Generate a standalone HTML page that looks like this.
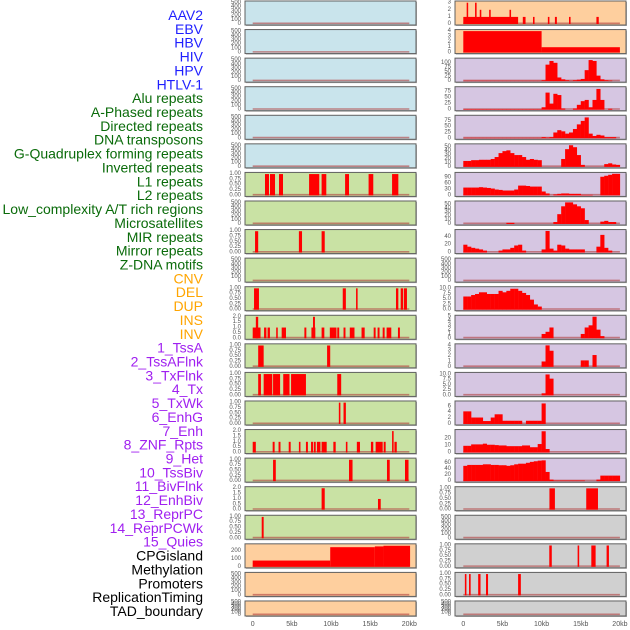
<!DOCTYPE html>
<html><head><meta charset="utf-8"><style>
html,body{margin:0;padding:0;background:#fff;}
svg{display:block;font-family:"Liberation Sans",sans-serif;}
</style></head><body>
<svg id="chart" width="630" height="630" viewBox="0 0 630 630"></svg>
<script>
// ---- labels ----
const labelNames = ["AAV2","EBV","HBV","HIV","HPV","HTLV-1","Alu repeats","A-Phased repeats","Directed repeats","DNA transposons","G-Quadruplex forming repeats","Inverted repeats","L1 repeats","L2 repeats","Low_complexity A/T rich regions","Microsatellites","MIR repeats","Mirror repeats","Z-DNA motifs","CNV","DEL","DUP","INS","INV","1_TssA","2_TssAFlnk","3_TxFlnk","4_Tx","5_TxWk","6_EnhG","7_Enh","8_ZNF_Rpts","9_Het","10_TssBiv","11_BivFlnk","12_EnhBiv","13_ReprPC","14_ReprPCWk","15_Quies","CPGisland","Methylation","Promoters","ReplicationTiming","TAD_boundary"];
const labelGroups = [0,0,0,0,0,0,1,1,1,1,1,1,1,1,1,1,1,1,1,2,2,2,2,2,3,3,3,3,3,3,3,3,3,3,3,3,3,3,3,4,4,4,4,4];
const xTickLabels = ["0","5kb","10kb","15kb","20kb"];
const xTickValues = [0,5,10,15,20];

// ---- tick label arrays ----
const T500 = ["0","100","200","300","400","500"];
const T01 = ["0.00","0.25","0.50","0.75","1.00"];
const T02 = ["0.0","0.5","1.0","1.5","2.0"];
const T10 = ["0.0","2.5","5.0","7.5","10.0"];
const T_meth = ["0","100","200"];
const T_r0 = ["0","1","2","3"];
const T_r1 = ["0","1","2","3","4"];
const T_r2 = ["0","25","50","75","100"];
const T_r3 = ["0","25","50","75"];
const T_r5 = ["0","10","20","30","40","50"];
const T_r6 = ["0","30","60","90"];
const T_r8 = ["0","20","40"];
const T_r11 = ["0","1","2","3","4","5"];
const T_r14 = ["0","2","4","6"];
const T_r15 = ["0","10","20"];
const T_r16 = ["0","20","40","60"];

// ---- span data [startKb, endKb, value] ----
const L6 = [[1.57,2.08,1],[2.21,2.85,1],[3.36,3.87,1],[7.2,8.5,1],[8.8,9.4,1],[11.8,12.3,1],[14.8,15.4,1],[17.8,18.6,1]];
const L8 = [[0.3,0.7,1],[5.9,6.3,1],[8.8,9.2,1]];
const L10 = [[0.17,0.8,1],[11.5,11.9,1],[13.2,13.4,1],[18.3,18.6,1],[18.9,19.2,1],[19.3,19.7,1]];
const L11 = [[0,1.0,1],[0.4,0.7,2],[1.45,1.75,1],[1.9,2.2,1],[3.0,3.2,1],[3.7,4.25,1],[6.6,6.85,1],[7.5,8.0,1],[7.7,7.95,2],[8.8,9.15,1],[9.85,10.7,1],[10.8,11.05,1],[11.6,11.85,1],[12.4,13.0,1],[13.9,14.3,1],[15.45,15.7,1],[15.95,16.2,1],[16.6,16.85,1],[17.1,17.7,1],[18.55,18.8,1]];
const L12 = [[0.7,1.4,1],[9.5,9.9,1]];
const L13 = [[0.7,1.05,1],[1.4,2.5,1],[2.6,3.5,1],[3.9,4.7,1],[4.9,6.8,1],[10.8,11.3,1]];
const L14 = [[11.0,11.2,1],[11.6,11.9,1]];
const L15 = [[0,0.4,1],[2.55,2.8,1],[3.3,3.55,1],[4.6,4.85,1],[5.9,6.1,1],[6.8,7.05,1],[7.45,7.7,1],[7.8,8.05,1],[8.2,8.65,1],[8.8,9.45,1],[10.3,10.6,1],[11.9,12.1,1],[13.3,13.7,1],[15.1,15.4,1],[15.7,16.6,1],[16.73,16.98,1],[17.8,18.0,2],[18.1,18.4,1]];
const L16 = [[2.6,2.95,1],[12.3,12.75,1],[17.15,17.5,1],[19.45,19.9,1]];
const L17 = [[8.8,9.2,2],[16.0,16.35,1]];
const L18 = [[1.15,1.4,1]];
const L19 = [[0,9.9,80],[9.9,15.6,250],[15.6,16.7,260],[16.7,20.1,268]];
const R0 = [[0,7.0,1],[0.43,0.6,3],[1.5,1.7,3],[2.1,2.3,2],[3.3,3.5,2],[5.9,6.1,2],[7.6,7.95,1],[8.9,9.1,1],[10.8,11.0,1],[11.7,11.95,1],[13.5,13.7,1],[17.0,17.3,1]];
const R1 = [[0,10.0,4],[10.0,20.0,1]];
const R17 = [[11.0,11.7,1],[15.7,17.2,1]];
const R19 = [[10.98,11.3,1],[14.6,14.8,1],[16.35,16.9,1],[18.3,18.6,1]];
const R20 = [[0.2,0.4,1],[0.73,0.94,1],[1.9,2.2,1],[2.9,3.16,1],[7.0,7.35,1]];

// ---- binned data (0.5kb bins from 0kb) ----
const R2 = [2,2,2,2,2,2,2,2,2,2,2,2,2,2,2,2,2,2,2,2,5,90,110,100,20,10,5,2,5,8,12,60,115,110,30,10,5,3,0,0];
const R3 = [2,2,2,2,2,2,2,2,2,2,2,2,2,2,2,2,2,2,2,2,10,70,25,65,60,5,0,0,5,20,35,40,10,40,85,40,0,4,0,0];
const R4 = [2,2,2,2,2,2,2,2,2,2,2,2,2,2,2,2,2,2,2,2,5,3,5,25,35,30,20,25,40,60,75,90,20,10,15,12,5,5,5,0];
const R5 = [15,15,17,17,18,18,18,20,25,35,40,42,35,30,30,25,18,20,18,17,0,0,0,0,0,20,45,55,50,30,5,0,0,0,0,0,7,9,6,5];
const R6 = [40,40,40,40,42,40,38,35,30,28,25,25,25,30,50,50,48,45,45,45,20,10,0,5,8,10,10,8,8,8,3,3,3,0,0,95,100,105,110,110];
const R7 = [0,0,0,0,0,0,0,0,0,0,0,3,3,0,0,0,0,0,0,0,0,0,0,5,25,45,55,55,50,45,40,10,0,0,0,6,8,5,5,0];
const R8 = [20,15,12,10,8,5,0,0,0,5,8,8,12,18,20,5,0,0,0,0,8,55,10,5,20,18,10,8,8,8,8,0,0,0,15,45,12,5,0,0];
const R10 = [6.3,6.3,7,7.5,8.3,8.3,7.5,7.5,7.5,9,8.3,9,10,10,9,8,7,4.8,2.5,1.5,0,0,0,0,0,0,0,0,0,0,0,0,0,0,0,0,0,0,0,0];
const R11 = [0,0,0,0,0,0,0,0,0,0,0,0,0,0,0,0,0,0,0,0,1,1.5,2.5,0,0,0,0,0,0,0,1,2.5,3,5,2,0.5,0,0,0,0];
const R12 = [0,0,0,0,0,0,0,0,0,0,0,0,0,0,0,0,0,0,0,0,1,4,3,0,0,0,0,0,0,0,1.2,1.2,0,2.2,0,0,0,0,0,0];
const R13 = [0,0,0,0,0,0,0,0,0,0,0,0,0,0,0,0,0,0,0,0,1,10,8,0,0,0,0,0,0,0,0,0,0,0,0,0,0,0,0,0];
const R14 = [4.3,4.3,2.2,2.2,2.2,1,1,2.2,3.3,3.3,1.1,1.1,1.1,1.1,1.1,0,1.1,1.1,1.1,1.1,7,0,0,0,0,0,0,0,0,0,0,0,0,0,0,0,0,0,0,0];
const R15 = [9.5,9.5,11.5,11.5,11.5,12.5,11,11,10.5,10,10,9,9,9,9,10,10,7.5,7.5,12,30,5,0,0,0,0,0,0,0,0,0,0,0,0,0,0,0,0,0,0];
const R16 = [50,53,53,53,53,55,55,53,53,52,52,50,52,55,57,57,60,63,65,67,68,30,5,2,2,2,2,2,2,2,2,0,0,0,5,18,18,18,18,18];

const BG = {blue:"#c9e4ec",green:"#c9e2a4",orange:"#fecf9e",purple:"#d6c6e2",gray:"#d0d0d0"};
// panel config: column, row, background, vmax, tick labels, spans, bins
const panels = [
 [0,0,"blue",525,T500,null,null],[0,1,"blue",525,T500,null,null],[0,2,"blue",525,T500,null,null],
 [0,3,"blue",525,T500,null,null],[0,4,"blue",525,T500,null,null],[0,5,"blue",525,T500,null,null],
 [0,6,"green",1.03,T01,L6,null],[0,7,"green",525,T500,null,null],[0,8,"green",1.03,T01,L8,null],
 [0,9,"green",525,T500,null,null],[0,10,"green",1.03,T01,L10,null],[0,11,"green",2.05,T02,L11,null],
 [0,12,"green",1.03,T01,L12,null],[0,13,"green",1.03,T01,L13,null],[0,14,"green",1.03,T01,L14,null],
 [0,15,"green",2.05,T02,L15,null],[0,16,"green",1.03,T01,L16,null],[0,17,"green",2.05,T02,L17,null],
 [0,18,"green",1.03,T01,L18,null],[0,19,"orange",280,T_meth,L19,null],[0,20,"orange",525,T500,null,null],
 [0,21,"orange",525,T500,null,null],
 [1,0,"orange",3.1,T_r0,R0,null],[1,1,"orange",4.1,T_r1,R1,null],[1,2,"purple",120,T_r2,null,R2],
 [1,3,"purple",90,T_r3,null,R3],[1,4,"purple",95,T_r3,null,R4],[1,5,"purple",56,T_r5,null,R5],
 [1,6,"purple",112,T_r6,null,R6],[1,7,"purple",56,T_r5,null,R7],[1,8,"purple",56,T_r8,null,R8],
 [1,9,"purple",525,T500,null,null],[1,10,"purple",10.5,T10,null,R10],[1,11,"purple",5.1,T_r11,null,R11],
 [1,12,"purple",4.1,T_r1,null,R12],[1,13,"purple",10.5,T10,null,R13],[1,14,"purple",7.5,T_r14,null,R14],
 [1,15,"purple",31,T_r15,null,R15],[1,16,"purple",72,T_r16,null,R16],[1,17,"gray",1.03,T01,R17,null],
 [1,18,"gray",525,T500,null,null],[1,19,"gray",1.03,T01,R19,null],[1,20,"gray",1.03,T01,R20,null],
 [1,21,"gray",525,T500,null,null]
];

const NS = "http://www.w3.org/2000/svg";
const svg = document.getElementById("chart");
function mk(tag, attrs, parent){const e=document.createElementNS(NS,tag);for(const k in attrs)e.setAttribute(k,attrs[k]);(parent||svg).appendChild(e);return e;}

// labels
const LCOL = ["#1f1fff","#0a6b0a","#ffa500","#a020f0","#000000"];
labelNames.forEach((n,i)=>{
  const t = mk("text",{x:203,y:15+i*13.86,"text-anchor":"end","dominant-baseline":"central","font-size":"14",fill:LCOL[labelGroups[i]]});
  
  
  t.textContent = n;
});

const COLX = [245,455], COLW = 171, X0 = [252.7,463.3], KB = 7.83;
function xs(c,kb){return X0[c]+kb*KB;}

panels.forEach(p=>{
  const [c,r,bg,vmax,ticks,spans,bins]=p;
  const top = 1 + r*28.57, h = (r===21)?15:24;
  const yb = top+h-1;
  const ys = v => yb - v/vmax*(h-2);
  const g = mk("g",{});
  
  
  mk("rect",{x:COLX[c]+1,y:top+1,width:COLW,height:h,fill:"#b0b0b0"},g);
  mk("rect",{x:COLX[c],y:top,width:COLW,height:h,fill:BG[bg],stroke:"#606060","stroke-width":1},g);
  mk("line",{x1:xs(c,0),x2:xs(c,20),y1:yb-0.7,y2:yb-0.7,stroke:"#b04040","stroke-opacity":0.6,"stroke-width":1.6},g);
  if(spans) spans.forEach(s=>{
    const x1=xs(c,s[0]), x2=xs(c,s[1]);
    const b=mk("rect",{x:x1,y:ys(s[2]),width:Math.max(1.5,x2-x1),height:yb-ys(s[2]),fill:"#ff0000"},g);
    
    
  });
  if(bins) bins.forEach((v,i)=>{
    if(v<=0) return;
    const x1=xs(c,i*0.5), x2=xs(c,(i+1)*0.5);
    const b=mk("rect",{x:x1,y:ys(v),width:x2-x1+0.2,height:yb-ys(v),fill:"#ff0000"},g);
    
    
  });
  ticks.forEach(l=>{
    const t=mk("text",{x:COLX[c]-4,y:ys(parseFloat(l)),"text-anchor":"end","dominant-baseline":"central","font-size":"6",fill:"#555"},g);
    
    
    t.textContent=l;
  });
});

// x axes
[0,1].forEach(c=>{
  xTickValues.forEach((v,i)=>{
    const t=mk("text",{x:xs(c,v),y:626,"text-anchor":"middle","font-size":"7",fill:"#555"});
    
    
    t.textContent=xTickLabels[i];
  });
});
</script>
</body></html>
